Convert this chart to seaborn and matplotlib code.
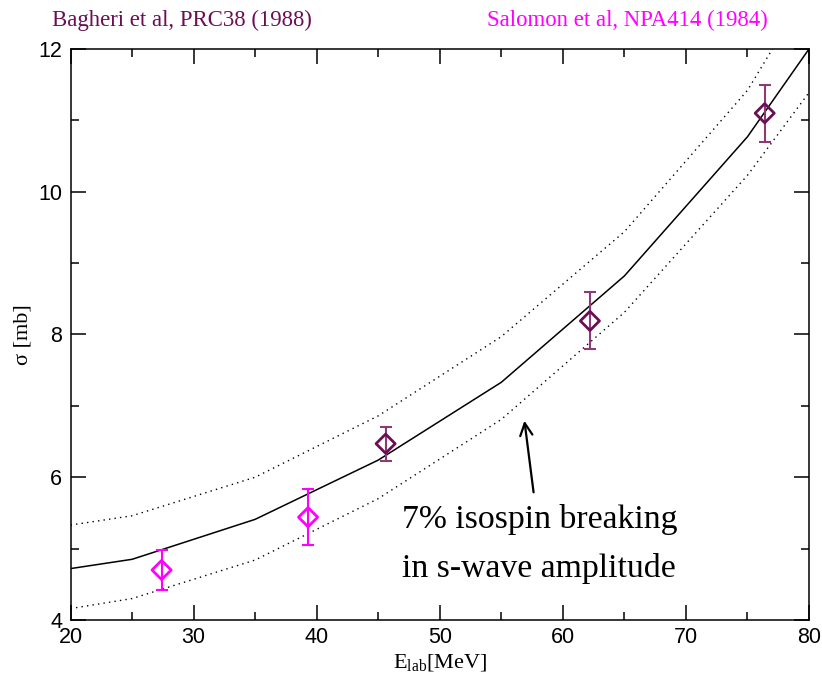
import matplotlib
matplotlib.use("Agg")
import matplotlib.pyplot as plt
import seaborn as sns
import pandas as pd

# Theory curve (central) and 7% isospin-breaking band, piecewise in E_lab
e_theory = [20, 25, 35, 45, 55, 65, 75, 80]
sigma_central = [4.72, 4.85, 5.41, 6.24, 7.33, 8.82, 10.77, 12.0]
sigma_upper = [5.33, 5.46, 6.00, 6.86, 7.97, 9.44, 11.42, 12.85]
sigma_lower = [4.16, 4.30, 4.84, 5.70, 6.81, 8.31, 10.23, 11.39]

# Measurements
e_bagheri = [45.6, 62.2, 76.4]
sigma_bagheri = [6.47, 8.19, 11.10]
err_bagheri = [0.24, 0.40, 0.40]

e_salomon = [27.4, 39.3]
sigma_salomon = [4.70, 5.44]
err_salomon = [0.28, 0.39]

purple = "#6b0f55"
purple_err = "#8c3a76"
magenta = "#ff00ff"

sns.set_theme(style="ticks")
plt.rcParams["font.family"] = ["Liberation Sans", "DejaVu Sans"]
plt.rcParams["text.color"] = "black"
plt.rcParams["axes.labelcolor"] = "black"
plt.rcParams["mathtext.fontset"] = "custom"
plt.rcParams["mathtext.rm"] = "Liberation Serif"
plt.rcParams["mathtext.it"] = "Liberation Serif:italic"

fig = plt.figure(figsize=(8.22, 6.81), dpi=100)
ax = fig.add_axes([0.0858, 0.0896, 0.8984, 0.8385])

curves = pd.DataFrame({"E": e_theory, "central": sigma_central,
                       "upper": sigma_upper, "lower": sigma_lower})
sns.lineplot(data=curves, x="E", y="central", ax=ax, color="black", lw=1.1)
sns.lineplot(data=curves, x="E", y="upper", ax=ax, color="black", lw=1.0,
             linestyle=(0, (1, 3)))
sns.lineplot(data=curves, x="E", y="lower", ax=ax, color="black", lw=1.0,
             linestyle=(0, (1, 3)))

# Error bars then open diamonds
ax.errorbar(e_salomon, sigma_salomon, yerr=err_salomon, fmt="none",
            ecolor=magenta, elinewidth=1.5, capsize=4.5, capthick=1.5, zorder=3)
ax.errorbar(e_bagheri, sigma_bagheri, yerr=err_bagheri, fmt="none",
            ecolor=purple_err, elinewidth=1.5, capsize=4.5, capthick=1.5, zorder=3)
sns.scatterplot(x=e_salomon, y=sigma_salomon, ax=ax, marker="D", s=95,
                facecolors="none", edgecolor=magenta, linewidth=2.0, zorder=4)
sns.scatterplot(x=e_bagheri, y=sigma_bagheri, ax=ax, marker="D", s=95,
                facecolors="none", edgecolor=purple, linewidth=2.0, zorder=4)

ax.set_xlim(20, 80)
ax.set_ylim(4, 12)
ax.set_xticks([20, 30, 40, 50, 60, 70, 80])
ax.set_xticks([25, 35, 45, 55, 65, 75], minor=True)
ax.set_yticks([4, 6, 8, 10, 12])
ax.set_yticks([5, 7, 9, 11], minor=True)
ax.tick_params(which="both", direction="in", top=True, right=True,
               width=1.1, colors="black", labelsize=15.5)
ax.tick_params(which="major", length=11)
ax.tick_params(which="minor", length=5.5)
ax.tick_params(axis="x", pad=5)
ax.tick_params(axis="y", pad=6)
for s in ax.spines.values():
    s.set_linewidth(1.1)
    s.set_color("black")

ax.set_xlabel(r"E$_{\rm lab}$[MeV]", fontsize=16, family="Liberation Serif",
              labelpad=3)
ax.set_ylabel("σ [mb]", fontsize=16, family="Liberation Serif", labelpad=4)

# Annotation for the band
ax.annotate("", xy=(56.85, 6.83), xytext=(57.65, 5.75),
            arrowprops=dict(arrowstyle="->", color="black", lw=1.6,
                            mutation_scale=22))
ax.text(46.93, 5.29, "7% isospin breaking", fontsize=24.3, color="black",
        family="Liberation Serif", va="baseline", ha="left")
ax.text(46.93, 4.60, "in s-wave amplitude", fontsize=24.3, color="black",
        family="Liberation Serif", va="baseline", ha="left")

# Data source labels above the frame
fig.text(52 / 822, 1 - 26 / 681, "Bagheri et al, PRC38 (1988)", color=purple,
         fontsize=16.4, family="Liberation Serif", va="baseline")
fig.text(487 / 822, 1 - 26 / 681, "Salomon et al, NPA414 (1984)", color=magenta,
         fontsize=16.4, family="Liberation Serif", va="baseline")

fig.savefig("out.png", dpi=100)
